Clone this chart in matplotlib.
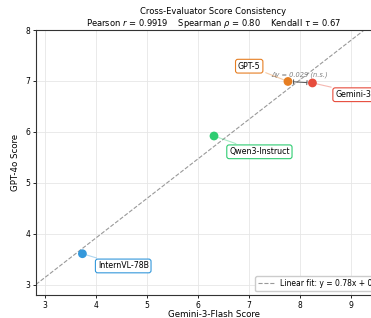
import matplotlib
matplotlib.use("Agg")
import matplotlib.pyplot as plt
import numpy as np

models = ["InternVL-78B", "Qwen3-Instruct", "GPT-5", "Gemini-3-Flash"]
gemini_scores = [3.73, 6.31, 7.76, 8.24]
gpt4o_scores = [3.61, 5.92, 6.99, 6.961]
colors = ["#3498db", "#2ecc71", "#e67e22", "#e74c3c"]
label_pos = [(4.53, 3.37), (7.2, 5.61), (7.0, 7.29), (9.27, 6.73)]

title = "Cross-Evaluator Score Consistency"
subtitle = r"Pearson $r$ = 0.9919    Spearman $\rho$ = 0.80    Kendall $\tau$ = 0.67"

fig = plt.figure(figsize=(3.71, 3.18), dpi=100)
ax = fig.add_axes([36/371, 23/318, 355/371, 265/318])

x = np.array(gemini_scores)
y = np.array(gpt4o_scores)
slope, intercept = np.polyfit(x, y, 1)
xl = (2.82, 9.78)
xs = np.linspace(xl[0], xl[1], 100)
ax.plot(xs, slope * xs + intercept, linestyle="--", color="gray", lw=0.8, alpha=0.8,
        label="Linear fit: y = 0.78x + 0.83")

for m, xv, yv, c, (lx, ly) in zip(models, gemini_scores, gpt4o_scores, colors, label_pos):
    ax.scatter([xv], [yv], s=40, color=c, zorder=5, edgecolors="none")
    ax.annotate(m, xy=(xv, yv), xytext=(lx, ly), fontsize=5.7, ha="center", va="center",
                bbox=dict(boxstyle="round,pad=0.3", fc="white", ec=c, lw=0.8),
                arrowprops=dict(arrowstyle="-", color=c, lw=0.8, alpha=0.4), zorder=6)

# delta annotation
ax.annotate("", xy=(gemini_scores[3], gpt4o_scores[3]), xytext=(gemini_scores[2], gpt4o_scores[2]),
            arrowprops=dict(arrowstyle="|-|,widthA=0.15,widthB=0.15", color="#555555", lw=0.7,
                            shrinkA=4, shrinkB=4), zorder=4)
dy = gpt4o_scores[2] - gpt4o_scores[3]
ax.text((gemini_scores[2] + gemini_scores[3]) / 2, 7.05, f"Δy = {dy:.3f} (n.s.)",
        fontsize=4.8, color="gray", ha="center", va="bottom", style="italic")

ax.set_xlim(*xl)
ax.set_ylim(2.8, 8.0)
ax.set_xticks([3, 4, 5, 6, 7, 8, 9])
ax.set_yticks([3, 4, 5, 6, 7, 8])
ax.tick_params(labelsize=5.5, length=2.5, width=0.6, pad=1.5)
ax.grid(True, color="#e6e6e6", lw=0.6)
ax.set_axisbelow(True)
for s in ax.spines.values():
    s.set_linewidth(0.8)
    s.set_color("#333333")
ax.set_xlabel("Gemini-3-Flash Score", fontsize=6.2, labelpad=0.5)
ax.set_ylabel("GPT-4o Score", fontsize=6.2, labelpad=4)
ax.set_title(title + "\n" + subtitle, fontsize=6, pad=3, linespacing=1.05)
ax.legend(loc="lower right", fontsize=5.5, frameon=True, framealpha=1, edgecolor="#cccccc")

fig.savefig("out.png", dpi=100)
